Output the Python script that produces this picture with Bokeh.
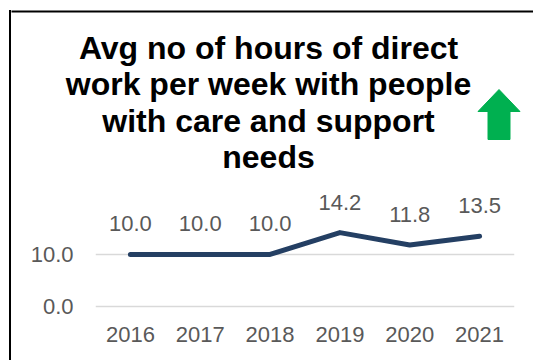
from bokeh.plotting import figure
from bokeh.layouts import column, row
from bokeh.models import (ColumnDataSource, FactorRange, Range1d, FixedTicker,
                          LabelSet, Label, BoxAnnotation, PolyAnnotation, Div,
                          CustomJSTickFormatter)
from bokeh.core.properties import value
from bokeh.embed import file_html
from bokeh.resources import INLINE

# ---- data ----
years = ["2016", "2017", "2018", "2019", "2020", "2021"]
hours = [10.0, 10.0, 10.0, 14.2, 11.8, 13.5]
y_ticks = [0, 10]
title_lines = ["Avg no of hours of direct",
               "work per week with people",
               "with care and support",
               "needs"]

FONT = "Liberation Sans"
GREY = "#595959"
NAVY = "#243F63"
HEAD_H = 190
W = 533
H = 360
LEFT = 11          # width taken by the left border column (9px gap + 2px line)
CW = W - LEFT      # width of the main column

# ---- left border line (full height) ----
edge = Div(text="", width=2, height=H - 10, margin=(10, 0, 0, 9),
           styles={"background-color": "black"})

# ---- header: title, arrow, top border ----
head = figure(width=CW, height=HEAD_H, output_backend="svg", toolbar_location=None,
              x_range=Range1d(LEFT, W), y_range=Range1d(HEAD_H, 0),
              x_axis_type=None, y_axis_type=None, min_border=0,
              background_fill_color="white", border_fill_color="white")
head.outline_line_color = None
head.grid.visible = False

for i, t in enumerate(title_lines):
    head.add_layout(Label(x=268, y=47 + 36.5 * i, text=t,
                          text_align="center", text_baseline="alphabetic",
                          text_font=FONT, text_font_size="32px",
                          text_font_style="bold", text_color="black"))

head.add_layout(BoxAnnotation(left=LEFT - 5, right=W + 50, top=11, bottom=HEAD_H + 50,
                              fill_alpha=0, line_color="black", line_alpha=1,
                              line_width=2))

ax, hw, sw = 498.5, 21, 11
head.add_layout(PolyAnnotation(
    xs=[ax, ax + hw, ax + sw, ax + sw, ax - sw, ax - sw, ax - hw],
    ys=[89, 111, 111, 139, 139, 111, 111],
    fill_color="#00B050", fill_alpha=1, line_color="#00B050", line_alpha=1,
    line_width=1))

# ---- chart ----
src = ColumnDataSource(dict(year=years, hours=hours,
                            lab=[f"{v:.1f}" for v in hours]))

p = figure(width=CW, height=H - HEAD_H, output_backend="svg",
           toolbar_location=None,
           x_range=FactorRange(*years, range_padding=0),
           y_range=Range1d(-0.4, 22.3),
           min_border_left=95 - LEFT, min_border_right=19,
           min_border_top=0, min_border_bottom=52,
           background_fill_color="white", border_fill_color="white")
p.outline_line_color = None

p.line("year", "hours", source=src, line_color=NAVY, line_width=5,
       line_cap="round", line_join="round")

p.add_layout(LabelSet(x="year", y="hours", text="lab", source=src,
                      y_offset=23, text_align="center", text_baseline="alphabetic",
                      text_font=value(FONT), text_font_size=value("22px"),
                      text_color=GREY))

p.xaxis.axis_line_color = None
p.xaxis.major_tick_line_color = None
p.xaxis.minor_tick_line_color = None
p.xaxis.major_label_text_font = FONT
p.xaxis.major_label_text_font_size = "22px"
p.xaxis.major_label_text_color = GREY
p.xaxis.major_label_standoff = 12
p.xgrid.grid_line_color = None

p.yaxis.ticker = FixedTicker(ticks=y_ticks)
p.yaxis.formatter = CustomJSTickFormatter(code="return tick.toFixed(1);")
p.yaxis.axis_line_color = None
p.yaxis.major_tick_line_color = None
p.yaxis.minor_tick_line_color = None
p.yaxis.major_label_text_font = FONT
p.yaxis.major_label_text_font_size = "22px"
p.yaxis.major_label_text_color = GREY
p.yaxis.major_label_standoff = 16
p.ygrid.ticker = FixedTicker(ticks=y_ticks)
p.ygrid.grid_line_color = "#D9D9D9"
p.ygrid.grid_line_width = 1.5

layout = row(edge, column(head, row(p, spacing=0), spacing=0), spacing=0)

open("out.html", "w").write(file_html(layout, INLINE))
